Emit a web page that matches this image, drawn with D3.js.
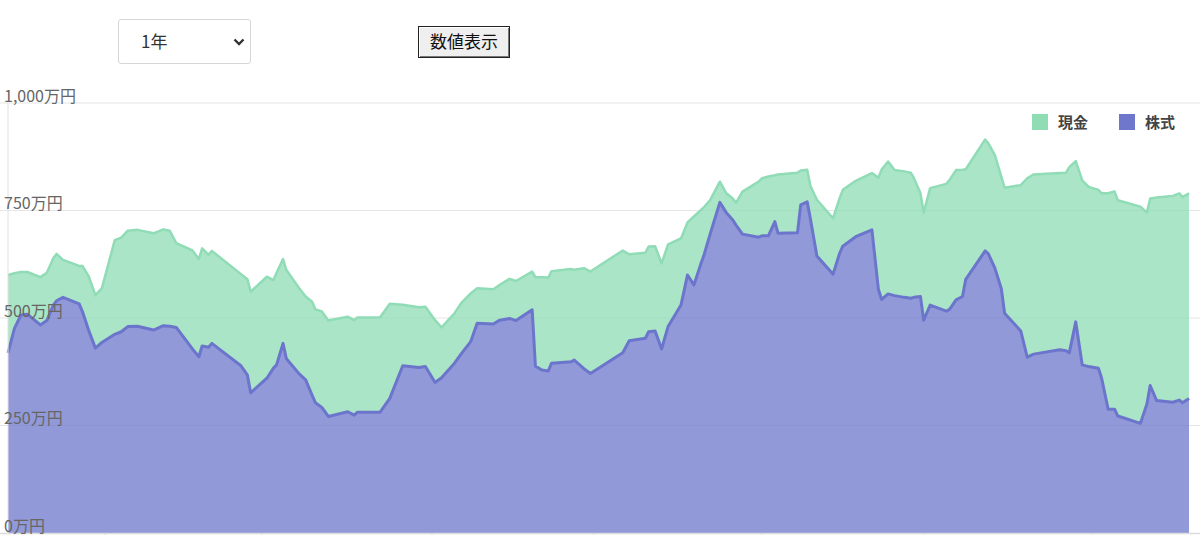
<!DOCTYPE html>
<html><head><meta charset="utf-8">
<script src="https://cdn.jsdelivr.net/npm/d3@7"></script>
<style>
html,body{margin:0;padding:0;background:#fff;width:1200px;height:535px;overflow:hidden;font-family:"Noto Sans CJK JP","Noto Sans",sans-serif;}
#sel{position:absolute;left:118px;top:19px;width:133px;height:45px;border:1px solid #d6d6d6;border-radius:3px;box-sizing:border-box;background:#fff;}
#sel span{position:absolute;left:22px;top:11px;font-size:17px;color:#333;line-height:20px;}
#sel svg{position:absolute;left:114px;top:18px;}
#btn{position:absolute;left:418px;top:26px;width:92px;height:32px;box-sizing:border-box;background:#efefef;border:1px solid #222;box-shadow:inset 1px 1px 0 #fff,inset -1px -1px 0 #777;font-family:"Noto Sans CJK JP",sans-serif;font-size:17px;color:#111;padding:0;line-height:28px;text-align:center;}
#chart{position:absolute;left:0;top:0;}
</style></head><body>
<div id="sel"><span>1年</span><svg width="12" height="8"><path d="M1.5 1.5 L6 6 L10.5 1.5" fill="none" stroke="#333" stroke-width="2.4"/></svg></div>
<div id="btn">数値表示</div>
<svg id="chart" width="1200" height="535"></svg>
<script>
const days  = [0,2,4,6,10,12,14,15,17,22,23,25,27,29,33,35,37,40,45,48,50,52,57,59,60,62,63,72,74,75,80,82,83,85,86,90,92,94,95,97,99,105,107,108,115,118,122,127,129,132,134,138,140,143,145,150,152,155,157,162,163,165,167,168,174,175,178,180,190,192,197,198,200,202,204,208,210,212,214,215,217,220,222,224,225,227,232,233,235,237,238,244,245,247,248,250,255,257,258,262,267,269,270,272,274,277,279,280,282,283,285,290,291,293,295,296,302,303,305,307,308,313,315,317,325,327,328,330,332,334,337,338,340,342,343,350,352,353,355,360,362,363,365];
const stock = [419,476,507,509,484,494,530,540,548,533,515,470,430,443,462,468,480,481,472,482,481,478,428,410,435,432,441,389,367,326,360,383,391,441,406,370,356,320,303,292,271,282,274,281,281,313,389,385,387,350,361,395,416,445,488,486,495,499,494,519,388,379,377,395,398,402,382,371,419,447,453,468,470,428,480,530,600,577,623,644,695,769,745,728,716,695,688,691,691,724,697,698,763,770,730,644,602,650,667,689,705,567,543,556,552,548,546,548,550,495,530,516,520,542,550,590,656,649,616,568,511,470,409,416,426,424,419,491,391,387,383,360,288,288,272,255,300,343,308,304,309,303,313];
const cash  = [181,128,100,98,111,111,109,109,87,88,106,126,123,126,219,219,223,224,225,224,222,196,229,227,227,215,215,213,223,235,236,205,214,196,206,199,194,218,217,223,223,221,221,220,221,220,142,140,139,145,117,116,118,112,81,81,82,92,92,89,207,216,217,214,216,210,234,237,238,201,199,198,197,199,191,155,122,159,127,113,79,48,45,50,52,99,129,134,138,108,137,140,80,75,77,131,130,128,131,130,132,259,302,308,292,293,292,277,240,250,272,296,301,302,295,256,259,257,263,261,292,339,416,418,411,414,432,374,429,418,415,430,502,506,502,504,445,435,472,480,481,478,477];
const yTicks = [0,250,500,750,1000];
const xTicks = [30,78.5,131,181,233,283,335];
const seriesNames = {cash:"現金", stock:"株式"};

const svg = d3.select("#chart");
const x = d3.scaleLinear().domain([0,365]).range([8,1189]);
const y = d3.scaleLinear().domain([0,1000]).range([533,103]);

// gridlines
svg.append("g").selectAll("line").data(yTicks.filter(d=>d>0)).join("line")
  .attr("x1",0).attr("x2",1200).attr("y1",d=>y(d)).attr("y2",d=>y(d))
  .attr("stroke","#e6e6e6").attr("stroke-width",1.2);

const rows = days.map((d,i)=>({day:d, stock:stock[i], cash:cash[i]}));
const stacked = d3.stack().keys(["stock","cash"])(rows);
const fills = {stock:"rgba(108,117,204,0.74)", cash:"rgba(140,220,180,0.74)"};
const strokes = {stock:"#6c75cc", cash:"#90dcb6"};
const area = d3.area().x(d=>x(d.data.day)).y0(d=>y(d[0])).y1(d=>y(d[1]));
const line = d3.line().x(d=>x(d.data.day)).y(d=>y(d[1]));

svg.append("g").selectAll("path").data(stacked).join("path")
  .attr("d",area).attr("fill",s=>fills[s.key]);
svg.append("g").selectAll("path").data(stacked.slice().reverse()).join("path")
  .attr("d",line).attr("fill","none").attr("stroke",s=>strokes[s.key])
  .attr("stroke-width",s=>s.key==="stock"?3:2.5).attr("stroke-linejoin","round");

// axes lines
svg.append("line").attr("x1",0).attr("x2",1200).attr("y1",y(0)+0.5).attr("y2",y(0)+0.5).attr("stroke","#dcdcdc").attr("stroke-width",1.5);
svg.append("line").attr("x1",8).attr("x2",8).attr("y1",y(1000)).attr("y2",y(0)).attr("stroke","#e2e2e2").attr("stroke-width",1);
svg.append("g").selectAll("line").data(xTicks).join("line")
  .attr("x1",d=>x(d)).attr("x2",d=>x(d)).attr("y1",y(0)).attr("y2",y(0)+8)
  .attr("stroke","#dcdcdc").attr("stroke-width",1.2);

// y labels
svg.append("g").selectAll("text").data(yTicks).join("text")
  .attr("x",4).attr("y",d=>y(d)-1.5)
  .attr("font-size",16).attr("fill","#666")
  .attr("font-family","'Noto Sans CJK JP',sans-serif")
  .text(d=>d3.format(",")(d)+"万円");

// legend
const legend = [{k:"cash",x:1032},{k:"stock",x:1119}];
const lg = svg.append("g").selectAll("g").data(legend).join("g").attr("transform",d=>`translate(${d.x},114)`);
lg.append("rect").attr("width",16).attr("height",16).attr("fill",d=>d.k==="cash"?"#8fdcb5":"#6e77cc");
lg.append("text").attr("x",26).attr("y",13.5).attr("font-size",15).attr("font-weight","bold")
  .attr("fill","#444").attr("font-family","'Noto Sans CJK JP',sans-serif").text(d=>seriesNames[d.k]);
</script>
</body></html>
